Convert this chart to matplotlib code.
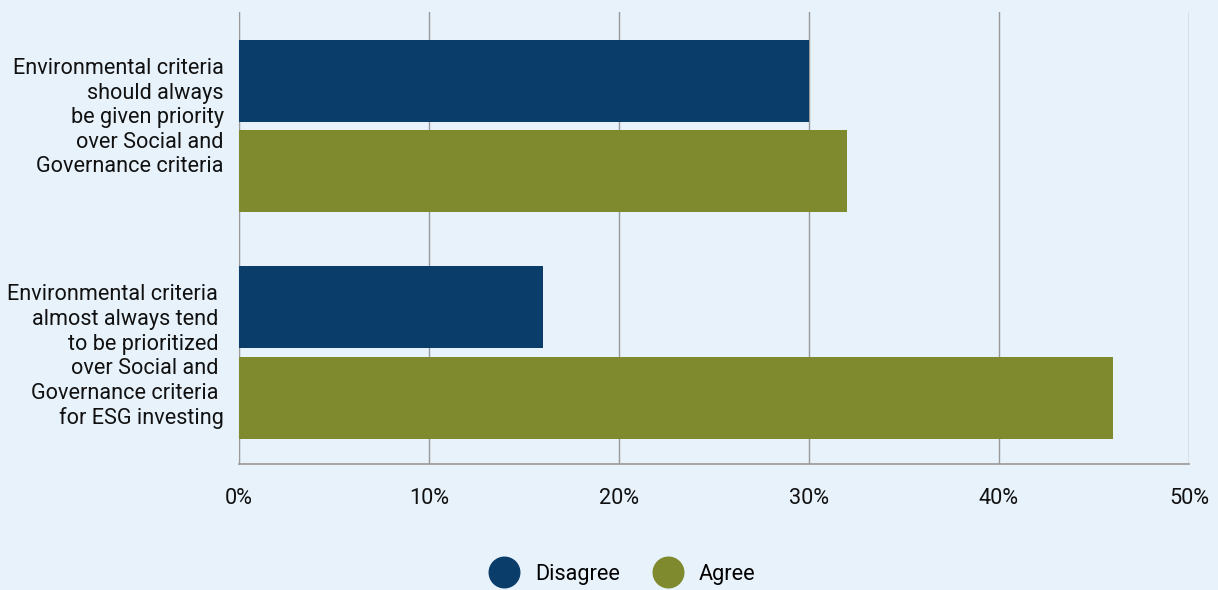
import matplotlib.pyplot as plt
import numpy as np
from matplotlib.lines import Line2D

plt.rcParams['font.family'] = ['Roboto', 'DejaVu Sans']

# survey statements and responses (percent)
categories = [
    "Environmental criteria\nshould always\nbe given priority\nover Social and\nGovernance criteria\n",
    "Environmental criteria \nalmost always tend \nto be prioritized \nover Social and \nGovernance criteria \nfor ESG investing",
]
disagree = [30, 16]
agree = [32, 46]
x_ticks = [0, 10, 20, 30, 40, 50]
x_tick_labels = ['0%', '10%', '20%', '30%', '40%', '50%']

bg = '#e7f2fb'
c_dis = '#0b3d6b'
c_agr = '#7f8a2e'
grid_c = '#999999'
fs = 15.6

fig = plt.figure(figsize=(12.18, 5.90), dpi=100, facecolor=bg)
ax = fig.add_axes([0.1962, 0.2136, 0.78, 0.7661], facecolor=bg)

y = np.arange(len(categories))
h = 0.362
off = 0.199
ax.barh(y - off, disagree, height=h, color=c_dis, zorder=3)
ax.barh(y + off, agree, height=h, color=c_agr, zorder=3)

ax.set_xlim(0, 50)
ax.set_ylim(1.492, -0.503)
ax.set_xticks(x_ticks)
ax.set_xticklabels(x_tick_labels, fontsize=fs, color='#111111')
ax.set_yticks(y)
ax.set_yticklabels(categories, fontsize=fs, color='#111111', ha='right',
                   multialignment='right', linespacing=1.22)
ax.tick_params(axis='both', length=0)
ax.tick_params(axis='x', pad=17)
ax.tick_params(axis='y', pad=11)

ax.grid(axis='x', color=grid_c, linewidth=1, zorder=0)
for s in ['top', 'right']:
    ax.spines[s].set_visible(False)
ax.spines['left'].set_color(grid_c)
ax.spines['bottom'].set_color(grid_c)
ax.spines['bottom'].set_linewidth(1.2)

handles = [
    Line2D([], [], marker='o', linestyle='', markersize=22, color=c_dis, label='Disagree'),
    Line2D([], [], marker='o', linestyle='', markersize=22, color=c_agr, label='Agree'),
]
fig.legend(handles=handles, loc='center', bbox_to_anchor=(0.508, 0.027), ncol=2,
           frameon=False, fontsize=fs, handletextpad=0.45, columnspacing=1.2)

fig.savefig('out.png', dpi=100, facecolor=bg)
